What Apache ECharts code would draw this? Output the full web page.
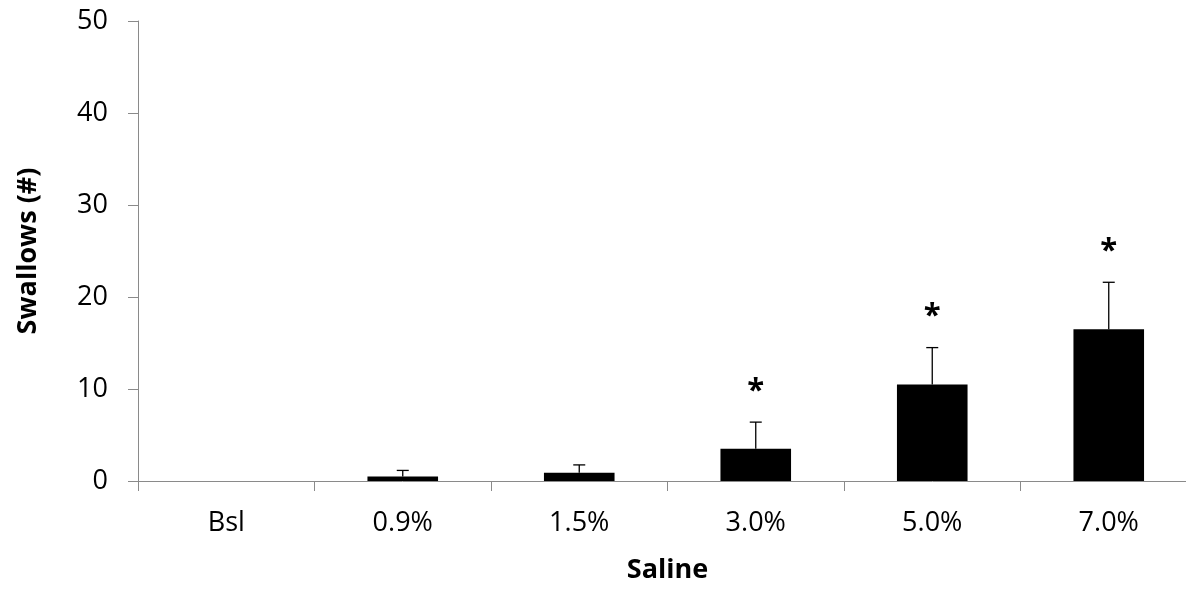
<!DOCTYPE html>
<html>
<head>
<meta charset="utf-8">
<script src="https://cdn.jsdelivr.net/npm/echarts@6/dist/echarts.min.js"></script>
<style>
  html, body { margin: 0; padding: 0; background: #fff; width: 1186px; height: 589px; overflow: hidden; }
  /* the category axis runs slightly past the right edge of the frame */
  #wrap { position: relative; width: 1186px; height: 589px; overflow: hidden; }
  #chart { position: absolute; left: 0; top: 0; width: 1197px; height: 589px; }
</style>
</head>
<body>
<div id="wrap"><div id="chart"></div></div>
<script>
// Swallow counts per saline concentration (mean, SEM), with significance marks
const categories = ['Bsl', '0.9%', '1.5%', '3.0%', '5.0%', '7.0%'];
const means = [0, 0.5, 0.9, 3.5, 10.5, 16.5];
const sems = [0, 0.65, 0.85, 2.9, 4.0, 5.1];
const marks = ['', '', '', '*', '*', '*'];
const yTicks = { min: 0, max: 50, interval: 10 };

const FONT = '"Open Sans", "DejaVu Sans", sans-serif';
const AXIS_GREY = '#8a8a8a';

const chart = echarts.init(document.getElementById('chart'), null, { renderer: 'canvas' });

const errData = categories.map((c, i) => [i, means[i], sems[i]]);

chart.setOption({
  animation: false,
  backgroundColor: '#ffffff',
  grid: { left: 138, right: 0, top: 21, bottom: 105.5, containLabel: false },
  xAxis: {
    type: 'category',
    data: categories,
    name: 'Saline',
    nameLocation: 'middle',
    nameGap: 76,
    nameTextStyle: { fontFamily: FONT, fontSize: 27, fontWeight: 'bold', color: '#000' },
    axisLine: { lineStyle: { color: AXIS_GREY, width: 1 } },
    axisTick: { show: true, length: 10, alignWithLabel: false, lineStyle: { color: AXIS_GREY } },
    axisLabel: { fontFamily: FONT, fontSize: 27, color: '#000', margin: 29 },
    splitLine: { show: false }
  },
  yAxis: {
    type: 'value',
    min: yTicks.min,
    max: yTicks.max,
    interval: yTicks.interval,
    name: 'Swallows (#)',
    nameLocation: 'middle',
    nameGap: 96,
    nameTextStyle: { fontFamily: FONT, fontSize: 27, fontWeight: 'bold', color: '#000' },
    axisLine: { show: true, lineStyle: { color: AXIS_GREY, width: 1 } },
    axisTick: { show: true, length: 10, lineStyle: { color: AXIS_GREY } },
    axisLabel: { fontFamily: FONT, fontSize: 27, color: '#000', margin: 30 },
    splitLine: { show: false }
  },
  series: [
    {
      type: 'bar',
      data: means,
      barWidth: '40%',
      itemStyle: { color: '#000000' },
      z: 2
    },
    {
      type: 'custom',
      data: errData,
      z: 3,
      renderItem: function (params, api) {
        const idx = api.value(0);
        const mean = api.value(1);
        const err = api.value(2);
        const mark = marks[idx];
        const children = [];
        const base = api.coord([idx, mean]);
        const top = api.coord([idx, mean + err]);
        const cap = 6;
        if (err > 0) {
          children.push({
            type: 'line',
            shape: { x1: base[0], y1: base[1], x2: top[0], y2: top[1] },
            style: { stroke: '#000', lineWidth: 1.3 }
          });
          children.push({
            type: 'line',
            shape: { x1: top[0] - cap, y1: top[1], x2: top[0] + cap, y2: top[1] },
            style: { stroke: '#000', lineWidth: 1.3 }
          });
        }
        if (mark) {
          children.push({
            type: 'text',
            x: top[0],
            y: top[1] - 31,
            style: {
              text: mark,
              fontFamily: FONT,
              fontSize: 31,
              fontWeight: 'bold',
              fill: '#000',
              align: 'center',
              verticalAlign: 'middle'
            }
          });
        }
        return { type: 'group', children: children };
      }
    }
  ]
});
</script>
</body>
</html>
